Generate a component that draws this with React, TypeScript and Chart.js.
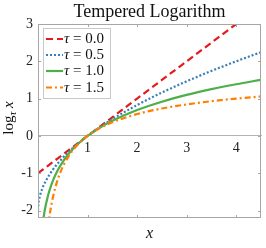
import React, { useEffect, useRef } from "react";
import { Chart, registerables } from "chart.js";

Chart.register(...registerables);

const xValues = [0, 0.01, 0.02, 0.05, 0.1, 0.12, 0.15, 0.2, 0.22, 0.25, 0.3, 0.4, 0.5, 0.6, 0.7, 0.8, 0.9, 1.0, 1.25, 1.5, 2.0, 2.5, 3.0, 3.5, 4.0, 4.5];
const tau00 = [-1, -0.99, -0.98, -0.95, -0.9, -0.88, -0.85, -0.8, -0.78, -0.75, -0.7, -0.6, -0.5, -0.4, -0.3, -0.2, -0.1, 0, 0.25, 0.5, 1, 1.5, 2, 2.5, 3, 3.5];
const tau05 = [-2, -1.8, -1.717, -1.553, -1.368, -1.307, -1.225, -1.106, -1.062, -1.0, -0.905, -0.735, -0.586, -0.451, -0.327, -0.211, -0.103, 0, 0.236, 0.449, 0.828, 1.162, 1.464, 1.742, 2.0, 2.243];
const tau10 = [null, null, null, -3.0, -2.303, -2.12, -1.897, -1.609, -1.514, -1.386, -1.204, -0.916, -0.693, -0.511, -0.357, -0.223, -0.105, 0, 0.223, 0.405, 0.693, 0.916, 1.099, 1.253, 1.386, 1.504];
const tau15 = [null, null, null, null, -4.325, -3.774, -3.164, -2.472, -2.264, -2.0, -1.651, -1.162, -0.828, -0.582, -0.39, -0.236, -0.108, 0, 0.211, 0.367, 0.586, 0.735, 0.845, 0.931, 1.0, 1.057];

const xTicks = [1, 2, 3, 4];
const yTicks = [-2, -1, 0, 1, 2, 3];
const legendLabels = ["0.0", "0.5", "1.0", "1.5"];
const titleText = "Tempered Logarithm";

const SERIF = "'Liberation Serif', 'DejaVu Serif', serif";
const colors = ["#e41a1c", "#377eb8", "#4daf4a", "#ff7f00"];
const dashes = [[7, 4], [2, 2], [], [6, 3, 2, 3]];

function toPoints(ys: (number | null)[]) {
  return xValues.map((x, i) => ({ x, y: ys[i] }));
}

const decorPlugin = {
  id: "decor",
  afterDraw(chart: any) {
    const ctx = chart.ctx as CanvasRenderingContext2D;
    const { left, right, top, bottom } = chart.chartArea;
    const xs = chart.scales.x;
    const ys = chart.scales.y;
    ctx.save();
    // box
    ctx.strokeStyle = "#a6a6a6";
    ctx.lineWidth = 1;
    ctx.setLineDash([]);
    ctx.strokeRect(Math.round(left) + 0.5, Math.round(top) + 0.5, Math.round(right - left) - 1, Math.round(bottom - top) - 1);
    // inward tick marks
    ctx.beginPath();
    xTicks.forEach((v) => {
      const px = Math.round(xs.getPixelForValue(v)) + 0.5;
      ctx.moveTo(px, top);
      ctx.lineTo(px, top + 3);
      ctx.moveTo(px, bottom);
      ctx.lineTo(px, bottom - 3);
    });
    yTicks.forEach((v) => {
      const py = Math.round(ys.getPixelForValue(v)) + 0.5;
      ctx.moveTo(left, py);
      ctx.lineTo(left + 3, py);
      ctx.moveTo(right, py);
      ctx.lineTo(right - 3, py);
    });
    ctx.stroke();

    // title
    ctx.fillStyle = "#111";
    ctx.font = `18px ${SERIF}`;
    ctx.textAlign = "center";
    ctx.textBaseline = "alphabetic";
    ctx.fillText(titleText, (left + right) / 2, 17);

    // x label
    ctx.font = `italic 16px ${SERIF}`;
    ctx.fillText("x", (left + right) / 2, 238);

    // y label: log_tau x
    ctx.save();
    const cy = (top + bottom) / 2 - 3;
    ctx.translate(13, cy);
    ctx.rotate(-Math.PI / 2);
    ctx.textAlign = "left";
    const f1 = `15px ${SERIF}`;
    const f2 = `italic 11px ${SERIF}`;
    const f3 = `italic 15px ${SERIF}`;
    ctx.font = f1;
    const w1 = ctx.measureText("log").width;
    ctx.font = f2;
    const w2 = ctx.measureText("τ").width;
    ctx.font = f3;
    const w3 = ctx.measureText(" x").width;
    const total = w1 + w2 + w3;
    let cx = -total / 2;
    ctx.font = f1;
    ctx.fillText("log", cx, 0);
    cx += w1;
    ctx.font = f2;
    ctx.fillText("τ", cx, 3);
    cx += w2;
    ctx.font = f3;
    ctx.fillText(" x", cx, 0);
    ctx.restore();

    // legend
    const lx = 43, ly = 28, lw = 67, lh = 70;
    ctx.fillStyle = "#fff";
    ctx.fillRect(lx + 0.5, ly + 0.5, lw, lh);
    ctx.strokeStyle = "#c8c8c8";
    ctx.lineWidth = 1;
    ctx.strokeRect(lx + 0.5, ly + 0.5, lw, lh);
    const rowY = [39, 55, 71, 87.5];
    legendLabels.forEach((lab, i) => {
      const y = rowY[i];
      ctx.strokeStyle = colors[i];
      ctx.lineWidth = 2.2;
      ctx.setLineDash(dashes[i]);
      ctx.beginPath();
      ctx.moveTo(46, y);
      ctx.lineTo(63, y);
      ctx.stroke();
      ctx.setLineDash([]);
      ctx.fillStyle = "#111";
      ctx.textAlign = "left";
      ctx.textBaseline = "middle";
      ctx.font = `italic 15px ${SERIF}`;
      ctx.fillText("τ", 64, y + 0.5);
      const tw = ctx.measureText("τ").width;
      ctx.font = `15px ${SERIF}`;
      ctx.fillText(" = " + lab, 64 + tw, y + 0.5);
    });
    ctx.restore();
  },
};

export default function App() {
  const ref = useRef<HTMLCanvasElement | null>(null);
  useEffect(() => {
    if (!ref.current) return;
    const series = [tau00, tau05, tau10, tau15];
    const chart = new Chart(ref.current, {
      type: "line",
      data: {
        datasets: series.map((s, i) => ({
          label: "τ = " + legendLabels[i],
          data: toPoints(s),
          borderColor: colors[i],
          backgroundColor: colors[i],
          borderWidth: 2.2,
          borderDash: dashes[i],
          pointRadius: 0,
          fill: false,
          cubicInterpolationMode: "monotone" as const,
          order: 3 - i,
        })),
      },
      options: {
        responsive: false,
        animation: false,
        layout: { padding: { left: 0, right: 5, top: 24, bottom: 30 } },
        plugins: { legend: { display: false }, tooltip: { enabled: false }, title: { display: false } },
        scales: {
          x: {
            type: "linear",
            min: 0,
            max: 4.5,
            position: { y: 0 } as any,
            afterBuildTicks: (scale: any) => {
              scale.ticks = xTicks.map((v) => ({ value: v }));
            },
            grid: { display: false, drawTicks: false },
            border: { display: true, color: "#b4b4b4", width: 1 },
            ticks: { color: "#222", padding: 4, font: { family: SERIF, size: 14 }, maxRotation: 0 },
          },
          y: {
            type: "linear",
            min: -2.2,
            max: 3,
            afterBuildTicks: (scale: any) => {
              scale.ticks = yTicks.map((v) => ({ value: v }));
            },
            afterFit: (scale: any) => {
              scale.width = 38;
            },
            grid: { display: false, drawTicks: false },
            border: { display: false },
            ticks: { color: "#222", padding: 5, font: { family: SERIF, size: 14 } },
          },
        },
      },
      plugins: [decorPlugin],
    });
    return () => chart.destroy();
  }, []);
  return (
    <div style={{ position: "absolute", left: 0, top: 0, width: 266, height: 248, background: "#fff" }}>
      <canvas ref={ref} width={266} height={248} />
    </div>
  );
}
